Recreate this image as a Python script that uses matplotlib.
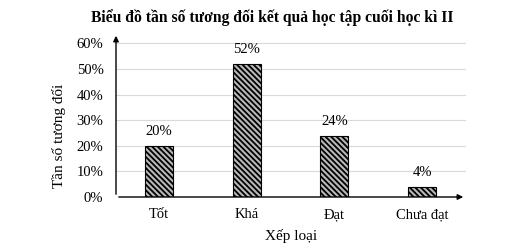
import matplotlib.pyplot as plt

# dữ liệu
categories = ['Tốt', 'Khá', 'Đạt', 'Chưa đạt']
values = [20, 52, 24, 4]
yticks = [0, 10, 20, 30, 40, 50, 60]

plt.rcParams['font.family'] = ['Liberation Serif', 'DejaVu Serif']
plt.rcParams['hatch.linewidth'] = 1.3

fig = plt.figure(figsize=(5.19, 2.44), dpi=100)
ax = fig.add_axes([116 / 519, 1 - 197 / 244, (466 - 116) / 519, (197 - 33) / 244])

x = list(range(len(categories)))
ax.bar(x, values, width=0.32, facecolor='#b8b8b8', edgecolor='black',
       hatch='\\\\\\\\\\\\', linewidth=0.8, zorder=3)

for xi, v in zip(x, values):
    ax.text(xi, v + 3, f'{v}%', ha='center', va='bottom', fontsize=10.5)

ax.set_xlim(-0.49, 3.5)
ax.set_ylim(0, 64)
ax.set_yticks(yticks)
ax.set_yticklabels([f'{t}%' for t in yticks], fontsize=10.5)
ax.set_xticks(x)
ax.set_xticklabels(categories, fontsize=10.5)
ax.tick_params(length=0, pad=9)
ax.tick_params(axis='x', pad=8)

ax.grid(axis='y', color='#d9d9d9', linewidth=0.8, zorder=0)
for s in ['top', 'right', 'left', 'bottom']:
    ax.spines[s].set_visible(False)

# trục có mũi tên
ax.annotate('', xy=(0, 1), xytext=(0, 0), xycoords='axes fraction',
            arrowprops=dict(arrowstyle='-|>', color='black', lw=1, mutation_scale=8))
ax.annotate('', xy=(1, 0), xytext=(0, 0), xycoords='axes fraction',
            arrowprops=dict(arrowstyle='-|>', color='black', lw=1, mutation_scale=8))

ax.set_xlabel('Xếp loại', fontsize=11, labelpad=6)
ax.set_ylabel('Tần số tương đối', fontsize=11)
ax.yaxis.set_label_coords(-(116 - 66) / 350, (197 - 136) / 164)
fig.text(272 / 519, 1 - 18 / 244, 'Biểu đồ tần số tương đối kết quả học tập cuối học kì II',
         ha='center', va='center', fontsize=11.25, fontweight='bold')

fig.savefig('out.png', dpi=100)
